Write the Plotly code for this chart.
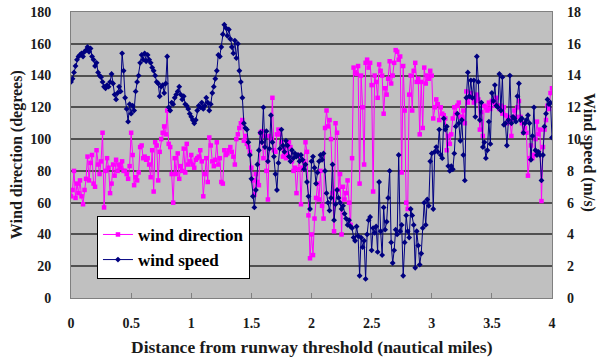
import numpy as np
import plotly.graph_objects as go

# Distance sampling grid (nautical miles)
distance = np.round(np.linspace(0, 4, 321), 4)

wind_speed = [
    13.6, 13.8, 14.2, 14.6, 15.0, 15.2, 15.3, 15.4, 15.2, 15.5, 15.6, 15.8, 15.5, 15.7, 15.2, 15.0, 14.6, 14.8, 14.2, 14.0,
    13.9, 13.6, 13.3, 13.2, 13.4, 13.3, 13.6, 14.1, 13.5, 12.8, 12.5, 12.9, 13.3, 13.0, 15.4, 14.3, 12.6, 11.9, 11.1, 12.2,
    11.6, 12.1, 11.8, 13.0, 13.6, 14.0, 14.8, 15.3, 15.0, 15.4, 14.9, 15.3, 15.0, 14.8, 14.5, 14.3, 14.0, 13.6, 13.5, 12.7,
    13.3, 13.4, 12.9, 13.5, 15.2, 12.0, 11.8, 12.3, 12.2, 12.6, 12.8, 13.0, 13.3, 12.8, 12.5, 12.7, 12.2, 12.1, 11.9, 11.6,
    11.4, 11.2, 11.0, 11.2, 11.8, 12.1, 12.0, 12.3, 11.9, 12.1, 12.6, 12.3, 11.8, 12.2, 12.9, 13.3, 13.8, 14.3, 15.3, 15.2,
    15.8, 16.6, 17.2, 17.0, 16.5, 16.9, 16.3, 15.8, 15.4, 16.2, 15.1, 16.0, 14.3, 13.6, 12.6, 11.0, 10.7, 10.6, 9.8, 9.0,
    7.5, 6.4, 5.7, 6.8, 8.4, 9.3, 10.4, 9.8, 12.0, 9.5, 10.5, 8.6, 9.4, 11.5, 9.8, 8.9, 7.8, 6.8, 8.5, 9.4,
    10.6, 9.6, 9.2, 9.9, 9.6, 8.9, 8.6, 9.3, 8.8, 9.1, 8.9, 9.0, 8.6, 9.0, 8.7, 8.1, 8.4, 7.3, 6.4, 5.6,
    8.6, 8.9, 8.2, 7.2, 7.9, 8.6, 9.0, 8.7, 9.1, 8.0, 6.6, 6.0, 5.5, 6.3, 8.4, 4.9, 5.9, 6.8, 6.3, 6.0,
    5.6, 5.8, 5.3, 5.0, 4.6, 4.9, 4.5, 4.4, 3.8, 3.6, 4.5, 3.9, 1.4, 3.8, 3.2, 3.6, 1.2, 4.0, 4.9, 5.1,
    3.0, 4.4, 4.1, 4.5, 2.9, 7.3, 4.2, 2.7, 5.7, 4.3, 4.8, 6.3, 8.0, 3.5, 2.2, 3.0, 4.3, 4.0, 9.0, 4.2,
    4.6, 1.4, 3.5, 5.2, 4.2, 3.8, 5.6, 5.2, 4.6, 1.9, 4.2, 3.3, 2.1, 2.8, 4.4, 6.0, 4.6, 6.2, 5.8, 8.6,
    9.1, 5.6, 9.2, 9.5, 9.2, 10.6, 9.0, 8.8, 11.3, 10.6, 10.8, 8.3, 8.0, 8.3, 8.1, 9.1, 10.8, 11.6, 11.0, 9.9,
    11.2, 9.0, 7.4, 12.6, 14.2, 12.7, 13.7, 12.6, 13.7, 11.4, 15.2, 13.6, 11.2, 12.3, 9.5, 9.8, 8.8, 9.3, 11.1, 9.7,
    12.9, 12.4, 13.4, 12.1, 12.0, 14.1, 11.8, 13.9, 10.9, 11.0, 9.6, 11.2, 14.0, 11.0, 11.4, 11.3, 11.1, 12.7, 13.5, 11.2,
    11.3, 10.4, 11.0, 11.2, 11.5, 11.0, 8.7, 10.2, 12.0, 9.3, 9.0, 9.2, 9.0, 7.4, 9.0, 10.8, 11.6, 12.5, 12.2, 12.3, 10.1,
]

wind_direction = [
    64, 68, 80, 63, 72, 66, 74, 64, 59, 68, 75, 89, 74, 85, 90, 72, 70, 93, 84, 78,
    86, 104, 57, 80, 88, 82, 66, 72, 84, 77, 87, 80, 84, 82, 86, 80, 80, 78, 75, 83,
    104, 90, 71, 76, 74, 79, 95, 96, 88, 89, 87, 88, 84, 76, 93, 67, 98, 96, 74, 92,
    100, 104, 108, 103, 118, 97, 95, 78, 60, 88, 78, 91, 75, 83, 80, 94, 79, 97, 84, 86,
    90, 84, 82, 87, 88, 89, 93, 86, 64, 78, 88, 73, 101, 96, 86, 83, 87, 98, 84, 88,
    73, 72, 93, 90, 91, 93, 95, 92, 89, 84, 100, 103, 107, 110, 112, 99, 102, 97, 95, 92,
    82, 74, 65, 78, 73, 71, 104, 105, 88, 102, 80, 62, 102, 100, 126, 93, 92, 103, 106, 103,
    98, 89, 94, 88, 91, 98, 95, 86, 80, 82, 66, 81, 90, 59, 82, 86, 98, 92, 52, 25,
    40, 27, 50, 63, 72, 62, 80, 58, 50, 107, 118, 108, 112, 100, 66, 42, 110, 104, 68, 78,
    40, 70, 62, 66, 74, 60, 46, 88, 145, 142, 141, 146, 72, 140, 120, 84, 148, 150, 145, 148,
    134, 67, 140, 136, 126, 147, 143, 140, 116, 132, 128, 138, 149, 135, 140, 148, 156, 155, 150, 152,
    79, 146, 118, 60, 56, 128, 140, 118, 143, 148, 136, 138, 103, 136, 107, 145, 135, 140, 138, 143,
    140, 113, 120, 125, 122, 112, 120, 116, 115, 113, 93, 102, 97, 103, 113, 120, 116, 121, 123, 114,
    114, 118, 110, 130, 123, 126, 129, 126, 123, 124, 128, 125, 106, 117, 102, 121, 120, 118, 123, 119,
    124, 123, 121, 126, 121, 119, 121, 116, 120, 115, 110, 114, 112, 102, 113, 118, 114, 120, 124, 114,
    110, 104, 107, 104, 77, 88, 96, 88, 90, 100, 111, 103, 106, 61, 95, 106, 112, 121, 119, 129, 132,
]

x_ticks = [0, 0.5, 1, 1.5, 2, 2.5, 3, 3.5, 4]
x_tick_labels = ["0", "0.5", "1", "1.5", "2", "2.5", "3", "3.5", "4"]
dir_ticks = list(range(0, 181, 20))
speed_ticks = list(range(0, 19, 2))

FONT = "Liberation Serif, Times New Roman, serif"
INK = "#1a1a1a"
tick_font = dict(family=FONT, size=14, color=INK, weight="bold")
title_font = dict(family=FONT, size=16, color=INK, weight="bold")

fig = go.Figure()
fig.add_trace(go.Scatter(
    x=distance, y=wind_direction, name="wind direction", mode="lines+markers",
    line=dict(color="#FF00FF", width=1),
    marker=dict(color="#FF00FF", size=4.5, symbol="square"),
    yaxis="y", legendgroup="a",
))
fig.add_trace(go.Scatter(
    x=distance, y=wind_speed, name="wind speed", mode="lines+markers",
    line=dict(color="#000080", width=1),
    marker=dict(color="#000080", size=4.5, symbol="diamond"),
    yaxis="y2", legendgroup="b",
))

fig.update_layout(
    width=599, height=362,
    margin=dict(l=71, r=47, t=12, b=64, autoexpand=False),
    paper_bgcolor="white",
    plot_bgcolor="#C0C0C0",
    font=tick_font,
    showlegend=True,
    legend=dict(
        x=0.054, y=0.287, xanchor="left", yanchor="top",
        bgcolor="white", bordercolor="black", borderwidth=1,
        font=dict(family=FONT, size=17, color="black", weight="bold"),
        tracegroupgap=0,
    ),
    xaxis=dict(
        range=[0, 4], tickvals=x_ticks, ticktext=x_tick_labels,
        showgrid=False, zeroline=False, automargin=False,
        ticks="inside", ticklen=5, tickcolor="#808080",
        showline=True, linecolor="#808080", linewidth=1, mirror=True,
        ticklabelstandoff=12,
        tickfont=tick_font,
    ),
    yaxis=dict(
        range=[0, 180], tickvals=dir_ticks, automargin=False,
        showgrid=True, gridcolor="#505050", gridwidth=1.5,
        zeroline=False, ticks="",
        showline=True, linecolor="#808080", linewidth=1, mirror=True,
        ticklabelstandoff=16,
        tickfont=tick_font,
    ),
    yaxis2=dict(
        range=[0, 18], tickvals=speed_ticks, overlaying="y", side="right",
        showgrid=False, zeroline=False, ticks="", automargin=False,
        ticklabelstandoff=14,
        tickfont=tick_font,
    ),
    annotations=[
        dict(text="Wind direction (degrees)", textangle=-90, xref="paper", yref="paper",
             x=-0.112, y=0.5, xanchor="center", yanchor="middle", showarrow=False,
             font=title_font),
        dict(text="Wind speed (m/s)", textangle=90, xref="paper", yref="paper",
             x=1.077, y=0.51, xanchor="center", yanchor="middle", showarrow=False,
             font=title_font),
        dict(text="Distance from runway threshold (nautical miles)", xref="paper", yref="paper",
             x=0.5, y=-0.171, xanchor="center", yanchor="middle", showarrow=False,
             font=dict(family=FONT, size=17.5, color=INK, weight="bold")),
    ],
)

fig.write_html(
    "out.html",
    config={"displayModeBar": False},
    post_script="document.body.style.margin='0';document.body.style.overflow='hidden';",
)
